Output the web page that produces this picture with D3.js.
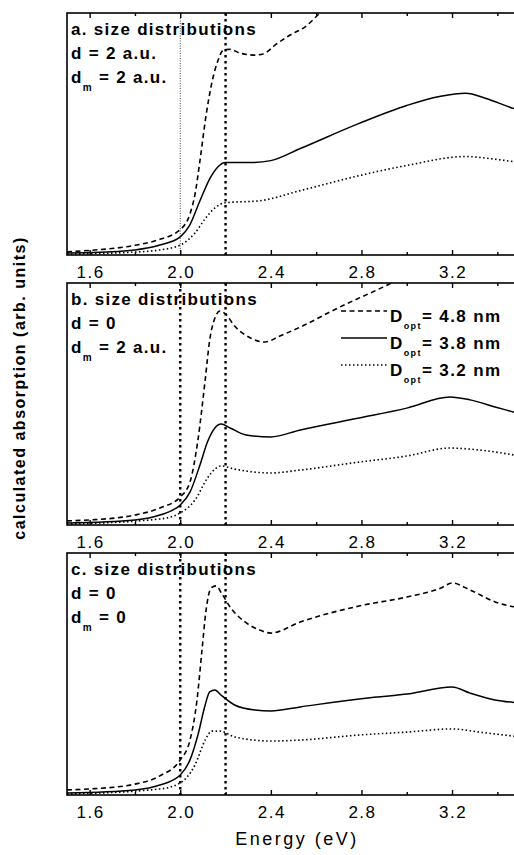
<!DOCTYPE html>
<html>
<head>
<meta charset="utf-8">
<script src="https://cdn.jsdelivr.net/npm/d3@7"></script>
<style>
  body { margin: 0; background: #fff; }
  svg text { font-family: "Liberation Sans", Arial, sans-serif; fill: #000; }
</style>
</head>
<body>
<div id="chart"></div>
<script>
// energy ticks (eV)
const majorTicks = [1.6, 2.0, 2.4, 2.8, 3.2];
const minorTicks = [1.8, 2.2, 2.6, 3.0, 3.4];
const markerE = [2.0, 2.2];

// panel a: d = 2 a.u., dm = 2 a.u.   [energy, absorption]
const a48 = [[1.5,1.3],[1.6,1.9],[1.8,4],[1.9,6.2],[2.0,10.5],[2.043,17],[2.065,25],[2.087,39],[2.114,57.7],[2.14,71.4],[2.167,80.5],[2.189,84.6],[2.22,85],[2.264,83.4],[2.33,82.6],[2.374,83.4],[2.418,86.7],[2.485,90.9],[2.55,94.2],[2.617,100],[2.705,107]];
const a38 = [[1.5,0.8],[1.6,1],[1.8,2.1],[1.91,4.1],[2.0,7.5],[2.04,12],[2.087,22.4],[2.13,31.5],[2.167,36.5],[2.2,38.2],[2.31,38.2],[2.4,39],[2.53,44],[2.79,54.4],[3.0,61.8],[3.15,65.6],[3.26,66.8],[3.35,64.7],[3.47,60.6],[3.5,59.8]];
const a32 = [[1.5,0.4],[1.8,1.2],[1.91,2.1],[2.0,4.1],[2.065,9.1],[2.11,15],[2.153,19.5],[2.2,21.6],[2.35,22.4],[2.53,26.6],[2.79,32.8],[3.0,37],[3.26,40.7],[3.37,39.8],[3.5,38.2]];

// panel b: d = 0, dm = 2 a.u.
const b48 = [[1.5,1.7],[1.6,2.1],[1.8,4.1],[1.91,7],[2.0,11.6],[2.043,17.8],[2.078,35.1],[2.11,59.9],[2.13,76.4],[2.153,85.5],[2.175,88.4],[2.2,87.2],[2.24,82.2],[2.31,77.3],[2.374,75.6],[2.44,78.1],[2.53,81.8],[2.705,90.1],[2.895,98.3],[2.97,101.7]];
const b38 = [[1.5,0.8],[1.8,2.1],[1.91,4.1],[2.0,8.3],[2.043,13.6],[2.087,24.8],[2.12,34.3],[2.153,40.1],[2.18,41.7],[2.22,40.1],[2.29,37.2],[2.4,36.4],[2.53,39.3],[2.79,44.2],[3.0,48.3],[3.19,52.9],[3.28,51.7],[3.39,48.8],[3.5,45.9]];
const b32 = [[1.5,0.4],[1.91,2.5],[2.0,5],[2.065,10.3],[2.12,19.4],[2.153,23.1],[2.18,24.4],[2.24,23.1],[2.4,21.5],[2.53,22.7],[2.79,26],[3.0,28.5],[3.19,31.8],[3.32,31],[3.5,28.5]];

// panel c: d = 0, dm = 0
const c48 = [[1.5,2.1],[1.6,2.5],[1.8,4.5],[1.91,7.9],[2.0,14.5],[2.043,22.7],[2.074,39.3],[2.096,59.9],[2.114,76.4],[2.136,85.5],[2.158,86.4],[2.184,83.1],[2.22,77.7],[2.286,71.5],[2.35,68.2],[2.4,66.9],[2.53,71.5],[2.79,78.1],[3.0,81.8],[3.15,85.5],[3.2,87.6],[3.28,84.7],[3.39,79.8],[3.5,77.3]];
const c38 = [[1.5,0.8],[1.8,2.1],[1.91,4.1],[2.0,8.3],[2.043,14.5],[2.078,24.8],[2.11,37.2],[2.13,42.6],[2.153,43.4],[2.18,41.3],[2.24,37.2],[2.33,35.1],[2.4,34.7],[2.53,36.4],[2.79,39.7],[3.0,41.7],[3.2,44.6],[3.28,42.1],[3.39,39.3],[3.5,38]];
const c32 = [[1.5,0.4],[1.91,2.5],[2.0,5],[2.065,12.4],[2.11,22.7],[2.14,26.4],[2.175,26.4],[2.24,24],[2.4,22.3],[2.53,22.7],[2.79,24.8],[3.0,26],[3.2,27.3],[3.32,26],[3.5,24]];

const panelTitles = ['a. size distributions', 'b. size distributions', 'c. size distributions'];
const panelD = ['2 a.u.', '0', '0'];
const panelDm = ['2 a.u.', '2 a.u.', '0'];
const legendLabels = ['4.8 nm', '3.8 nm', '3.2 nm'];

const panels = [[a48, a38, a32], [b48, b38, b32], [c48, c38, c32]];
const styles = [
  { dash: '5,3.5', width: 1.6 },
  { dash: null, width: 1.5 },
  { dash: '1.5,2.5', width: 1.6 }
];

const W = 514, H = 855;
const left = 67, right = 520;
const tops = [13, 283, 553];
const ph = 242;

const svg = d3.select('#chart').append('svg')
  .attr('width', W).attr('height', H);

const x = d3.scaleLinear().domain([1.5, 3.5]).range([left, right]);

panels.forEach((series, i) => {
  const top = tops[i];
  const bottom = top + ph;
  const y = d3.scaleLinear().domain([0, 100]).range([bottom, top]);
  const g = svg.append('g');

  g.append('clipPath').attr('id', 'clip' + i)
    .append('rect').attr('x', left).attr('y', top)
    .attr('width', right - left).attr('height', ph);

  // vertical marker lines
  markerE.forEach((e, k) => {
    const thin = i === 0 && k === 0;
    g.append('line')
      .attr('x1', x(e)).attr('x2', x(e))
      .attr('y1', top).attr('y2', bottom)
      .attr('stroke', thin ? '#444' : '#000')
      .attr('stroke-width', thin ? 1 : 2.4)
      .attr('stroke-dasharray', thin ? '1,1.5' : '2.4,3.6');
  });

  const line = d3.line()
    .x(d => x(d[0])).y(d => y(d[1]))
    .curve(d3.curveMonotoneX);

  series.forEach((s, k) => {
    g.append('path')
      .datum(s)
      .attr('clip-path', `url(#clip${i})`)
      .attr('fill', 'none')
      .attr('stroke', '#000')
      .attr('stroke-width', styles[k].width)
      .attr('stroke-dasharray', styles[k].dash)
      .attr('d', line);
  });

  // frame
  g.append('rect')
    .attr('x', left).attr('y', top)
    .attr('width', right - left).attr('height', ph)
    .attr('fill', 'none').attr('stroke', '#000').attr('stroke-width', 1.6);

  // inward ticks, bottom and top
  g.append('g').attr('transform', `translate(0,${bottom})`)
    .call(d3.axisBottom(x).tickValues(majorTicks).tickSize(-5).tickFormat(''))
    .call(a => a.select('.domain').remove());
  g.append('g').attr('transform', `translate(0,${bottom})`)
    .call(d3.axisBottom(x).tickValues(minorTicks).tickSize(-3).tickFormat(''))
    .call(a => a.select('.domain').remove());
  g.append('g').attr('transform', `translate(0,${top})`)
    .call(d3.axisTop(x).tickValues(majorTicks).tickSize(-5).tickFormat(''))
    .call(a => a.select('.domain').remove());
  g.append('g').attr('transform', `translate(0,${top})`)
    .call(d3.axisTop(x).tickValues(minorTicks).tickSize(-3).tickFormat(''))
    .call(a => a.select('.domain').remove());
  g.selectAll('.tick line').attr('stroke-width', 1.4);

  // tick labels
  g.selectAll('.tlabel').data(majorTicks).enter().append('text')
    .attr('x', d => x(d) + 1).attr('y', bottom + 23)
    .attr('text-anchor', 'middle')
    .attr('font-size', 17).attr('letter-spacing', 1.5)
    .text(d => d.toFixed(1));

  // panel annotations
  const tx = 71;
  g.append('text').attr('x', tx).attr('y', top + 22)
    .attr('font-size', 17).attr('font-weight', 'bold').attr('letter-spacing', 1.3)
    .text(panelTitles[i]);
  g.append('text').attr('x', tx).attr('y', top + 46)
    .attr('font-size', 17).attr('font-weight', 'bold').attr('letter-spacing', 1.3)
    .text('d = ' + panelD[i]);
  const dm = g.append('text').attr('x', tx).attr('y', top + 70)
    .attr('font-size', 17).attr('font-weight', 'bold').attr('letter-spacing', 1.3);
  dm.append('tspan').text('d');
  dm.append('tspan').attr('font-size', 10).attr('dy', 8).text('m');
  dm.append('tspan').attr('dy', -8).text(' = ' + panelDm[i]);

  // legend in panel b
  if (i === 1) {
    legendLabels.forEach((lab, k) => {
      const ly = top + 28 + k * 27;
      g.append('line')
        .attr('x1', 341).attr('x2', 387).attr('y1', ly).attr('y2', ly)
        .attr('stroke', '#000')
        .attr('stroke-width', styles[k].width)
        .attr('stroke-dasharray', styles[k].dash);
      const t = g.append('text').attr('x', 390).attr('y', ly + 11)
        .attr('font-size', 17).attr('font-weight', 'bold').attr('letter-spacing', 1.4);
      t.append('tspan').text('D');
      t.append('tspan').attr('font-size', 9).attr('dy', 7).text('opt');
      t.append('tspan').attr('dy', -7).text('= ' + lab);
    });
  }
});

// axis titles
svg.append('text')
  .attr('x', 297).attr('y', 845)
  .attr('text-anchor', 'middle')
  .attr('font-size', 18).attr('letter-spacing', 2.5)
  .text('Energy (eV)');

svg.append('text')
  .attr('transform', 'translate(25,388) rotate(-90)')
  .attr('text-anchor', 'middle')
  .attr('font-size', 16).attr('font-weight', 'bold').attr('letter-spacing', 1.5)
  .text('calculated absorption (arb. units)');
</script>
</body>
</html>
